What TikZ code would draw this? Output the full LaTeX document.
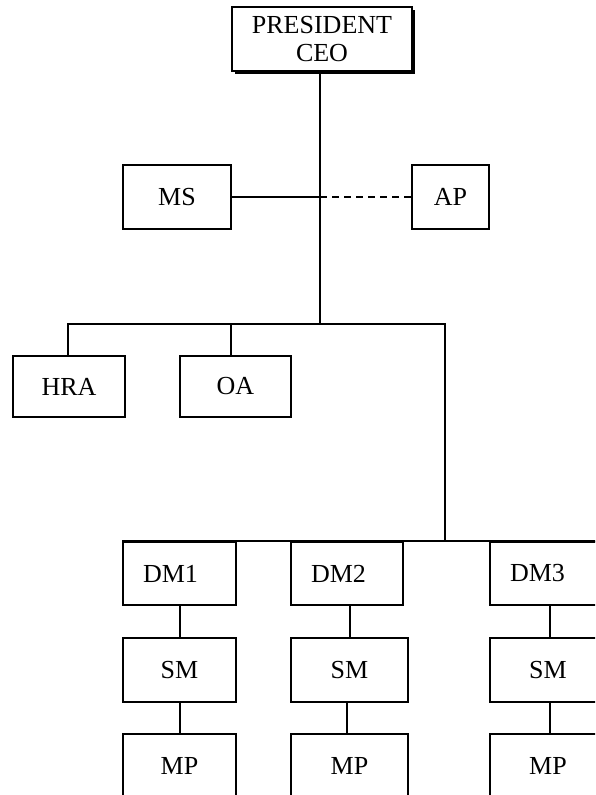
\documentclass[tikz,border=0pt]{standalone}
\usepackage{fontspec}
\setmainfont{Liberation Serif}
\begin{document}
\begin{tikzpicture}[x=1pt,y=-1pt,
  every node/.style={font=\fontsize{26}{28}\selectfont},
  box/.style={draw,line width=1.8pt,fill=white,inner sep=0pt,minimum height=64pt,align=center},
  dmbox/.style={draw,line width=1.8pt,fill=white,inner ysep=0pt,inner xsep=20pt,minimum height=63pt,text width=73pt,align=left},
  link/.style={line width=2pt},
  dashlink/.style={line width=2pt,dash pattern=on 7pt off 5pt}]
\useasboundingbox (0,0) rectangle (595,795);
\clip (0,0) rectangle (595,795);
% top box with shadow
\fill (234.5,9.5) rectangle (415,74);
\node[box,minimum width=180pt,minimum height=64pt] (ceo) at (322,39)
  {\raisebox{-2.5pt}[\height][\depth]{\begin{tabular}{@{}c@{}}PRESIDENT\\CEO\end{tabular}}};
\node[box,minimum width=108pt] (ms) at (177,197) {MS};
\node[box,minimum width=77pt] (ap) at (450.5,197) {AP};
\node[box,minimum width=112pt,minimum height=61pt] (hra) at (69,386.5) {HRA};
\node[box,minimum width=111pt,minimum height=61pt] (oa) at (235.5,386.5) {OA};
\node[dmbox] (dm1) at (179.5,573.5) {DM1};
\node[dmbox,text width=72pt] (dm2) at (347,573.5) {DM2};
\node[dmbox] (dm3) at (546.5,573.5) {DM3};
\node[box,minimum width=113pt] (sm1) at (179.5,670) {SM};
\node[box,minimum width=117pt] (sm2) at (349.5,670) {SM};
\node[box,minimum width=116pt] (sm3) at (548,670) {SM};
\node[box,minimum width=113pt] (mp1) at (179.5,766) {MP};
\node[box,minimum width=117pt] (mp2) at (349.5,766) {MP};
\node[box,minimum width=116pt] (mp3) at (548,766) {MP};
% junctions
\coordinate (top) at (320,71);
\coordinate (jm) at (320,197);
\coordinate (bm) at (320,324);
\coordinate (bl) at (68,324);
\coordinate (br) at (445,324);
\coordinate (bd) at (445,542);
\coordinate (c1) at (180,0);
\coordinate (c2) at (350,0);
\coordinate (c3) at (550,0);
\coordinate (d2) at (347,0);
\coordinate (oat) at (231,0);
\draw[link] (top) -- (bm);
\draw[link] (ms.east) -- (jm);
\draw[dashlink] (jm) -- (ap.west);
\draw[link] (hra.north -| bl) -- (bl) -- (br) -- (bd);
\draw[link] (oat |- oa.north) -- (oat |- bm);
\draw[link] (dm1.north west) -- (dm3.north east);
\draw[link] (c1 |- sm1.north) -- (c1 |- dm1.south);
\draw[link] (c2 |- sm2.north) -- (c2 |- dm2.south);
\draw[link] (c3 |- sm3.north) -- (c3 |- dm3.south);
\draw[link] (c1 |- sm1.south) -- (c1 |- mp1.north);
\draw[link] (d2 |- sm2.south) -- (d2 |- mp2.north);
\draw[link] (c3 |- sm3.south) -- (c3 |- mp3.north);
\end{tikzpicture}
\end{document}
